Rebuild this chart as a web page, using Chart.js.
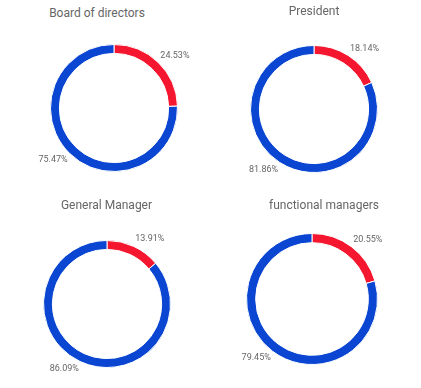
<!DOCTYPE html>
<html>
<head>
<meta charset="utf-8">
<script src="https://cdn.jsdelivr.net/npm/chart.js@4/dist/chart.umd.min.js"></script>
<style>
  html, body { margin: 0; padding: 0; background: #fff; overflow: hidden; }
  body { width: 421px; height: 388px; position: relative; font-family: Roboto, sans-serif; }
  .title { position: absolute; width: 200px; margin-left: -100px; text-align: center;
           font-size: 12px; line-height: 14px; color: #666; white-space: nowrap; }
  .box { position: absolute; }
</style>
</head>
<body>
<script>
const titles = ["Board of directors", "President", "General Manager", "functional managers"];
const segments = ["Share A", "Share B"];
const redValues = [24.53, 18.14, 13.91, 20.55];
const blueValues = [75.47, 81.86, 86.09, 79.45];
const colors = ["#F5172F", "#0A46D2"];

// layout of each panel: doughnut centre, radius, title centre / top
const panels = [
  { cx: 114, cy: 108, r: 64, tx: 97, ty: 6 },
  { cx: 313.5, cy: 108.5, r: 64, tx: 314, ty: 4 },
  { cx: 106.5, cy: 303.5, r: 64, tx: 106.5, ty: 198 },
  { cx: 311.5, cy: 298.5, r: 66, tx: 324, ty: 198 }
];
const M = 40;

Chart.defaults.font.family = "Roboto";

const outsideLabels = {
  id: "outsideLabels",
  afterDatasetsDraw(chart) {
    const ctx = chart.ctx;
    const ds = chart.data.datasets[0];
    chart.getDatasetMeta(0).data.forEach((arc, i) => {
      const p = arc.getProps(["x", "y", "startAngle", "endAngle", "outerRadius"], true);
      const mid = (p.startAngle + p.endAngle) / 2;
      const rr = p.outerRadius + 3;
      const c = Math.cos(mid), s = Math.sin(mid);
      ctx.save();
      ctx.font = "9px Roboto";
      ctx.fillStyle = "#666";
      ctx.textAlign = c >= 0 ? "left" : "right";
      ctx.textBaseline = s >= 0 ? "top" : "bottom";
      ctx.fillText(ds.data[i].toFixed(2) + "%", p.x + rr * c, p.y + rr * s);
      ctx.restore();
    });
  }
};

panels.forEach((pn, k) => {
  const t = document.createElement("div");
  t.className = "title";
  t.style.left = pn.tx + "px";
  t.style.top = pn.ty + "px";
  t.textContent = titles[k];
  document.body.appendChild(t);

  const box = document.createElement("div");
  box.className = "box";
  const size = 2 * (pn.r + M);
  box.style.left = (pn.cx - pn.r - M) + "px";
  box.style.top = (pn.cy - pn.r - M) + "px";
  box.style.width = size + "px";
  box.style.height = size + "px";
  const cv = document.createElement("canvas");
  box.appendChild(cv);
  document.body.appendChild(box);

  new Chart(cv, {
    type: "doughnut",
    data: {
      labels: segments,
      datasets: [{
        data: [redValues[k], blueValues[k]],
        backgroundColor: colors,
        borderColor: "#fff",
        borderWidth: 1
      }]
    },
    options: {
      responsive: true,
      maintainAspectRatio: false,
      animation: false,
      cutout: "86%",
      layout: { padding: M },
      plugins: {
        legend: { display: false },
        tooltip: { enabled: false },
        title: { display: false }
      }
    },
    plugins: [outsideLabels]
  });
});
</script>
</body>
</html>
